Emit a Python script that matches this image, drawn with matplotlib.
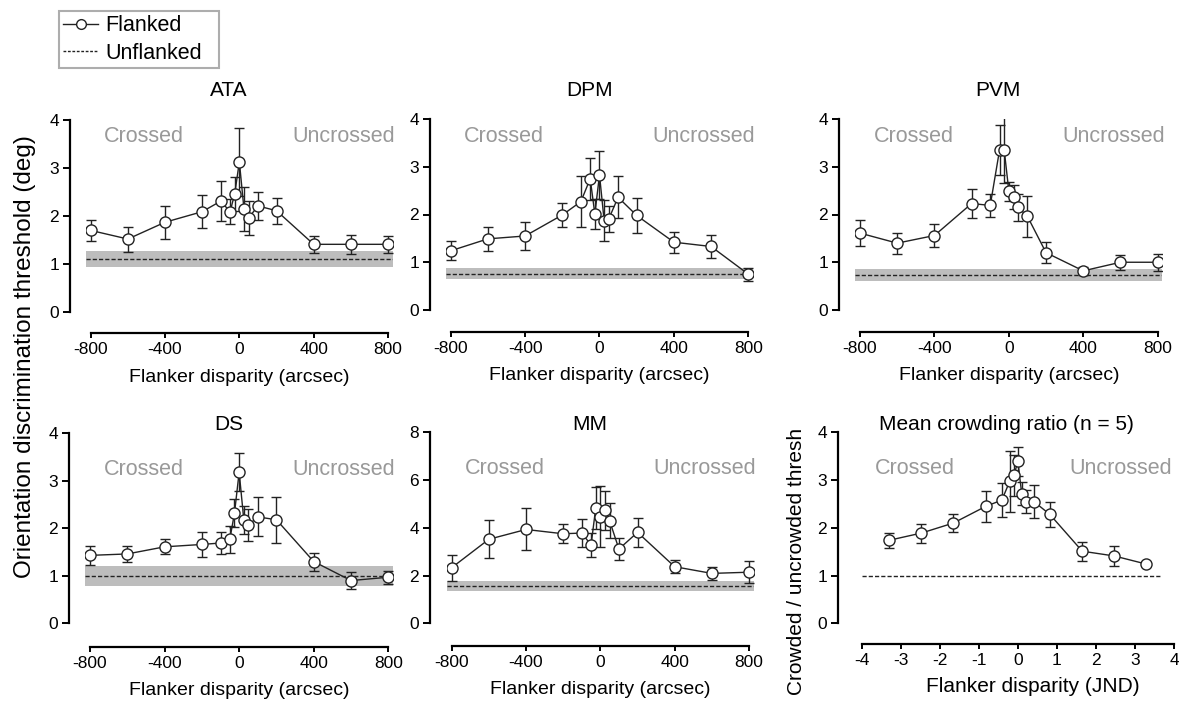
import matplotlib
matplotlib.use('Agg')
import matplotlib.pyplot as plt
from matplotlib.lines import Line2D

plt.rcParams['font.family'] = ['Liberation Sans', 'DejaVu Sans']
plt.rcParams['axes.unicode_minus'] = False

W, H = 1179, 706

# flanker disparities (arcsec), same for every observer
disparity = [-800, -600, -400, -200, -100, -50, -25, 0, 25, 50, 100, 200, 400, 600, 800]
disp_ticks = [-800, -400, 0, 400, 800]

ata_thresh = [1.70, 1.52, 1.87, 2.09, 2.31, 2.09, 2.46, 3.13, 2.14, 1.96, 2.21, 2.11, 1.41, 1.41, 1.41]
ata_err = [0.22, 0.26, 0.34, 0.34, 0.41, 0.26, 0.35, 0.71, 0.46, 0.36, 0.30, 0.27, 0.18, 0.20, 0.18]
ata_unflanked = 1.10
ata_unflanked_err = 0.165

dpm_thresh = [1.24, 1.49, 1.55, 1.99, 2.27, 2.75, 2.01, 2.83, 1.87, 1.91, 2.36, 1.98, 1.42, 1.33, 0.75]
dpm_err = [0.20, 0.25, 0.30, 0.25, 0.54, 0.44, 0.32, 0.51, 0.43, 0.27, 0.44, 0.36, 0.22, 0.25, 0.14]
dpm_unflanked = 0.76
dpm_unflanked_err = 0.11

pvm_thresh = [1.61, 1.40, 1.56, 2.23, 2.19, 3.35, 3.35, 2.49, 2.37, 2.15, 1.96, 1.20, 0.82, 1.00, 1.00]
pvm_err = [0.27, 0.22, 0.25, 0.31, 0.24, 0.52, 0.70, 0.20, 0.25, 0.28, 0.43, 0.22, 0.08, 0.16, 0.18]
pvm_unflanked = 0.73
pvm_unflanked_err = 0.125

ds_thresh = [1.43, 1.46, 1.61, 1.66, 1.69, 1.77, 2.32, 3.18, 2.18, 2.07, 2.24, 2.18, 1.30, 0.90, 0.97]
ds_err = [0.20, 0.16, 0.16, 0.27, 0.24, 0.28, 0.30, 0.40, 0.30, 0.34, 0.41, 0.48, 0.19, 0.17, 0.14]
ds_unflanked = 1.00
ds_unflanked_err = 0.21

mm_thresh = [2.33, 3.52, 3.93, 3.75, 3.78, 3.28, 4.82, 4.47, 4.73, 4.29, 3.11, 3.81, 2.37, 2.09, 2.14]
mm_err = [0.54, 0.80, 0.88, 0.40, 0.60, 0.50, 0.89, 1.28, 0.82, 0.73, 0.47, 0.61, 0.27, 0.28, 0.45]
mm_unflanked = 1.58
mm_unflanked_err = 0.21

# mean crowding ratio, disparity in JND units
jnd = [-3.29, -2.47, -1.65, -0.82, -0.41, -0.21, -0.10, 0.0, 0.10, 0.21, 0.41, 0.82, 1.65, 2.47, 3.29]
jnd_ticks = [-4, -3, -2, -1, 0, 1, 2, 3, 4]
ratio_mean = [1.74, 1.89, 2.10, 2.45, 2.58, 2.97, 3.10, 3.39, 2.71, 2.55, 2.55, 2.28, 1.51, 1.41, 1.24]
ratio_err = [0.16, 0.20, 0.19, 0.32, 0.36, 0.64, 0.43, 0.31, 0.24, 0.24, 0.34, 0.26, 0.20, 0.20, 0.04]
ratio_ref = 1.0

GREY_TXT = '#999999'
BAND = '#bdbdbd'


def make_axes(fig, x0, x1, y_top, y_bot, xlo, xhi, pad, spine_x, spine_y):
	# pixel positions of the data ends -> axes rect, spines pushed outward
	s = (x1 - x0) / (xhi - xlo)
	left = x0 - pad * s
	right = x1 + pad * s
	ax = fig.add_axes([left / W, 1 - y_bot / H, (right - left) / W, (y_bot - y_top) / H])
	ax.set_xlim(xlo - pad, xhi + pad)
	ax.spines['top'].set_visible(False)
	ax.spines['right'].set_visible(False)
	ax.spines['left'].set_position(('outward', (left - spine_x) * 0.72))
	ax.spines['bottom'].set_position(('outward', (spine_y - y_bot) * 0.72))
	for sp in ('left', 'bottom'):
		ax.spines[sp].set_linewidth(1.6)
	ax.tick_params(axis='y', length=5, width=1.4, labelsize=12.5, pad=3)
	ax.tick_params(axis='x', length=3.5, width=1.4, labelsize=12.5, pad=3)
	ax.patch.set_alpha(0)
	return ax


def draw_series(ax, x, y, err):
	ax.errorbar(x, y, yerr=err, fmt='none', ecolor='#222222', elinewidth=1,
		capsize=3.5, capthick=1, zorder=3)
	ax.plot(x, y, '-o', color='#222222', lw=1, ms=8, mfc='white', mec='#222222',
		mew=1, zorder=4)


def side_labels(ax, yfrac):
	ax.text(0.19, yfrac, 'Crossed', transform=ax.transAxes, ha='center', va='center',
		fontsize=15.5, color=GREY_TXT)
	ax.text(0.84, yfrac, 'Uncrossed', transform=ax.transAxes, ha='center', va='center',
		fontsize=15.5, color=GREY_TXT)


def observer_panel(fig, pos, name, thresh, err, base, base_err, ymax, title_y, lab_y):
	x0, x1, y_top, y_bot, spine_x, spine_y = pos
	ax = make_axes(fig, x0, x1, y_top, y_bot, -800, 800, 25, spine_x, spine_y)
	ax.set_ylim(0, ymax)
	ax.spines['left'].set_bounds(0, ymax)
	ax.spines['bottom'].set_bounds(-800, 800)
	ax.set_xticks(disp_ticks)
	ax.set_xticklabels([str(t) for t in disp_ticks])
	ax.set_yticks(range(0, ymax + 1, ymax // 4))
	ax.axhspan(base - base_err, base + base_err, color=BAND, lw=0, zorder=1)
	ax.axhline(base, color='#222222', lw=1, dashes=(3, 1.5), zorder=2)
	draw_series(ax, disparity, thresh, err)
	side_labels(ax, lab_y)
	fig.text((spine_x + x1) / 2 / W, 1 - title_y / H, name, ha='center', va='center',
		fontsize=15)
	fig.text((x0 + x1) / 2 / W, 1 - (spine_y + 44) / H, 'Flanker disparity (arcsec)',
		ha='center', va='center', fontsize=14)
	return ax


fig = plt.figure(figsize=(W / 100, H / 100), dpi=100)

# (x of -800, x of 800, y of top, y of 0, left spine x, bottom spine y) in pixels
observer_panel(fig, (90.7, 388, 120, 312, 70, 333), 'ATA', ata_thresh, ata_err,
	ata_unflanked, ata_unflanked_err, 4, 90, 0.915)
observer_panel(fig, (450.7, 748.3, 119, 310, 430, 332), 'DPM', dpm_thresh, dpm_err,
	dpm_unflanked, dpm_unflanked_err, 4, 90, 0.91)
observer_panel(fig, (860, 1157.7, 119, 310, 839, 332), 'PVM', pvm_thresh, pvm_err,
	pvm_unflanked, pvm_unflanked_err, 4, 90, 0.91)
observer_panel(fig, (90, 388.3, 433.3, 623.3, 69, 646.5), 'DS', ds_thresh, ds_err,
	ds_unflanked, ds_unflanked_err, 4, 425, 0.81)
observer_panel(fig, (451.7, 749, 432.3, 623.3, 430, 646), 'MM', mm_thresh, mm_err,
	mm_unflanked, mm_unflanked_err, 8, 425, 0.81)

# mean crowding ratio panel
ax = make_axes(fig, 861.7, 1174, 432.3, 623.3, -4, 4, 0, 838.3, 644)
ax.set_ylim(0, 4)
ax.spines['left'].set_bounds(0, 4)
ax.spines['bottom'].set_bounds(-4, 4)
ax.set_xticks(jnd_ticks)
ax.set_xticklabels([str(t) for t in jnd_ticks])
ax.set_yticks([0, 1, 2, 3, 4])
ax.axhline(ratio_ref, xmin=0, xmax=0.955, color='#222222', lw=1, dashes=(3, 1.5), zorder=2)
draw_series(ax, jnd, ratio_mean, ratio_err)
ax.text(0.17, 0.81, 'Crossed', transform=ax.transAxes, ha='center', va='center',
	fontsize=15.5, color=GREY_TXT)
ax.text(0.83, 0.81, 'Uncrossed', transform=ax.transAxes, ha='center', va='center',
	fontsize=15.5, color=GREY_TXT)
fig.text((838.3 + 1174) / 2 / W, 1 - 425 / H, 'Mean crowding ratio (n = 5)',
	ha='center', va='center', fontsize=15)
fig.text(1033 / W, 1 - 687 / H, 'Flanker disparity (JND)', ha='center', va='center',
	fontsize=15)
fig.text(797 / W, 1 - 561 / H, 'Crowded / uncrowded thresh', ha='center', va='center',
	rotation=90, fontsize=15)

# shared y label
fig.text(25 / W, 1 - 357 / H, 'Orientation discrimination threshold (deg)', ha='center',
	va='center', rotation=90, fontsize=17.5)

# legend, stretched to the box width of the original
handles = [
	Line2D([], [], color='#222222', lw=1, marker='o', ms=7, mfc='white', mec='#222222'),
	Line2D([], [], color='#222222', lw=1, dashes=(2, 1.2)),
]
leg = fig.legend(handles, ['Flanked', 'Unflanked'], loc='upper left',
	bbox_to_anchor=(59 / W, 1 - 66 / H, 160 / W, 55 / H), mode='expand',
	fontsize=15.5, frameon=True, fancybox=False,
	handlelength=1.6, handletextpad=0.35, labelspacing=0.3, borderpad=0.2,
	borderaxespad=0)
leg.get_frame().set_edgecolor('#999999')
leg.get_frame().set_linewidth(1.5)

fig.savefig('out.png', dpi=100)
